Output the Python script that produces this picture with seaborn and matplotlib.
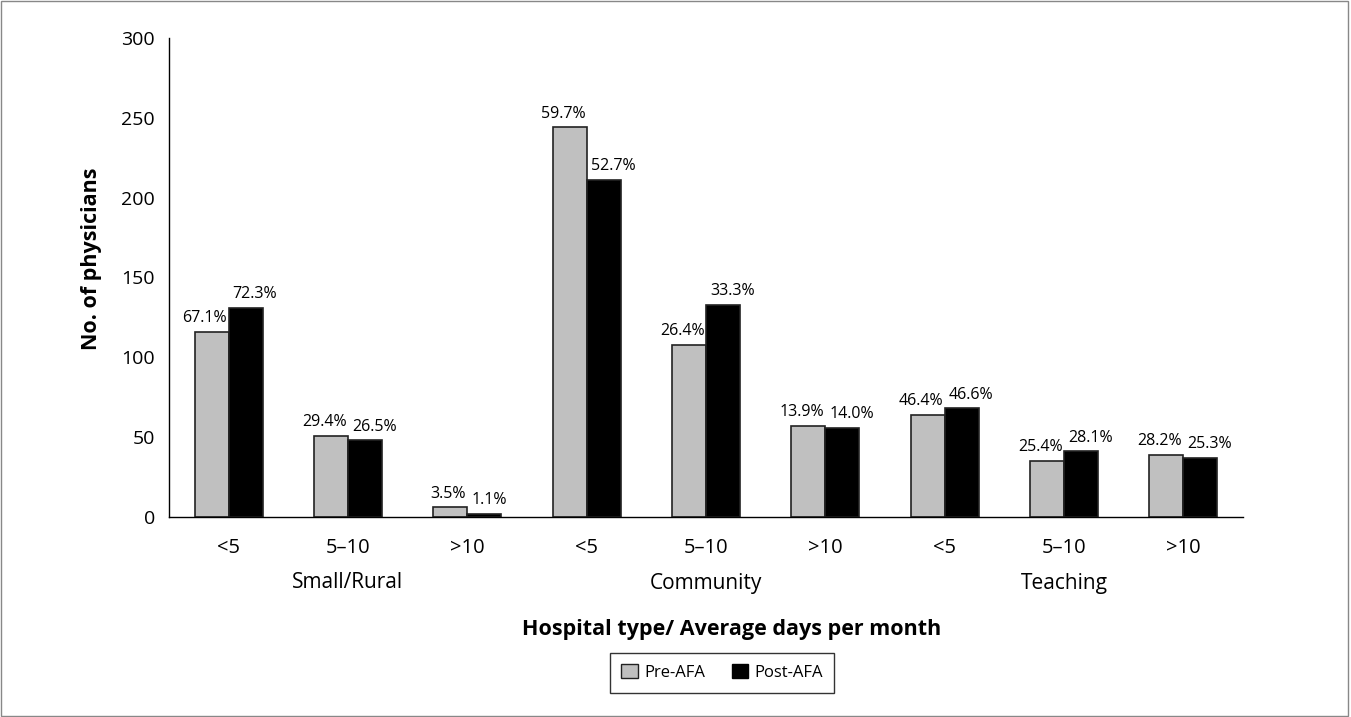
import matplotlib
matplotlib.use("Agg")
import matplotlib.pyplot as plt
import matplotlib.transforms as mtransforms
from matplotlib.patches import Rectangle
import pandas as pd
import seaborn as sns

# data
hospital_types = ["Small/Rural", "Community", "Teaching"]
day_bins = ["<5", "5\u201310", ">10"]
pre_afa = [116, 51, 6, 244, 108, 57, 64, 35, 39]
post_afa = [131, 48, 2, 211, 133, 56, 68, 41, 37]
pre_pct = ["67.1%", "29.4%", "3.5%", "59.7%", "26.4%", "13.9%", "46.4%", "25.4%", "28.2%"]
post_pct = ["72.3%", "26.5%", "1.1%", "52.7%", "33.3%", "14.0%", "46.6%", "28.1%", "25.3%"]

cats = [f"{h}|{d}" for h in hospital_types for d in day_bins]
df = pd.DataFrame({
    "cat": cats * 2,
    "n": pre_afa + post_afa,
    "period": ["Pre-AFA"] * len(cats) + ["Post-AFA"] * len(cats),
})

sns.set_style("white")
plt.rcParams["font.family"] = ["Open Sans", "DejaVu Sans"]
# seaborn's style uses dark gray text; the reference is plain black
for key in ["text.color", "axes.labelcolor", "xtick.color", "ytick.color"]:
    plt.rcParams[key] = "black"

fig = plt.figure(figsize=(13.51, 7.17), dpi=100)
ax = fig.add_axes([0.125, 0.279, 0.795, 0.668])

sns.barplot(data=df, x="cat", y="n", hue="period", order=cats,
            palette={"Pre-AFA": "#c0c0c0", "Post-AFA": "#000000"},
            width=0.57, gap=0, edgecolor="#222222", linewidth=1.2,
            saturation=1, legend=False, ax=ax)

# Excel-style labels: pre label ends at its bar's right edge, post label starts at its bar's left edge
pre_bars, post_bars = ax.containers[0], ax.containers[1]
for bar, lab in zip(pre_bars, pre_pct):
    ax.annotate(lab, (bar.get_x() + bar.get_width(), bar.get_height()),
                xytext=(-1, 7), textcoords="offset points",
                ha="right", va="baseline", fontsize=11.5)
for bar, lab in zip(post_bars, post_pct):
    ax.annotate(lab, (bar.get_x(), bar.get_height()),
                xytext=(3, 7), textcoords="offset points",
                ha="left", va="baseline", fontsize=11.5)

ax.set_ylim(0, 300)
ax.set_xlim(-0.5, len(cats) - 0.5)
ax.set_yticks(range(0, 301, 50))
ax.tick_params(axis="y", labelsize=14, length=6, width=1, color="black", pad=4)

# category boundaries as ticks, labels at the centers
ax.set_xticks([i - 0.5 for i in range(len(cats) + 1)])
ax.set_xticklabels([])
ax.tick_params(axis="x", which="major", length=7, width=1, color="black")
ax.set_xticks(range(len(cats)), minor=True)
ax.set_xticklabels(day_bins * len(hospital_types), minor=True, fontsize=14.5)
ax.tick_params(axis="x", which="minor", length=0, pad=15)

for sp in ["top", "right"]:
    ax.spines[sp].set_visible(False)
for sp in ["left", "bottom"]:
    ax.spines[sp].set_color("black")
    ax.spines[sp].set_linewidth(1)

trans = mtransforms.blended_transform_factory(ax.transData, fig.transFigure)
for i, h in enumerate(hospital_types):
    ax.text(3 * i + 1, 1 - 583 / 717, h, transform=trans, ha="center", va="center", fontsize=15)

ax.set_xlabel("")
ax.set_ylabel("No. of physicians", fontsize=15.5, fontweight="bold")
ax.yaxis.set_label_coords(-0.062, 0.54)
fig.text(732 / 1351, 1 - 629 / 717, "Hospital type/ Average days per month",
         ha="center", va="center", fontsize=15.5, fontweight="bold")

handles = [Rectangle((0, 0), 1, 1, facecolor="#c0c0c0", edgecolor="#222222"),
           Rectangle((0, 0), 1, 1, facecolor="black", edgecolor="black")]
leg = fig.legend(handles, ["Pre-AFA", "Post-AFA"], loc="center",
                 bbox_to_anchor=(722 / 1351, 1 - 672.5 / 717), ncol=2, fontsize=12,
                 frameon=True, fancybox=False, handlelength=1.0, handleheight=0.9,
                 columnspacing=1.6, handletextpad=0.35, borderpad=0.7, borderaxespad=0)
leg.get_frame().set_edgecolor("black")
leg.get_frame().set_linewidth(1)

fig.patches.append(Rectangle((0.001, 0.001), 0.997, 0.997, transform=fig.transFigure,
                             fill=False, edgecolor="#888888", linewidth=1))

fig.savefig("out.png", dpi=100)
